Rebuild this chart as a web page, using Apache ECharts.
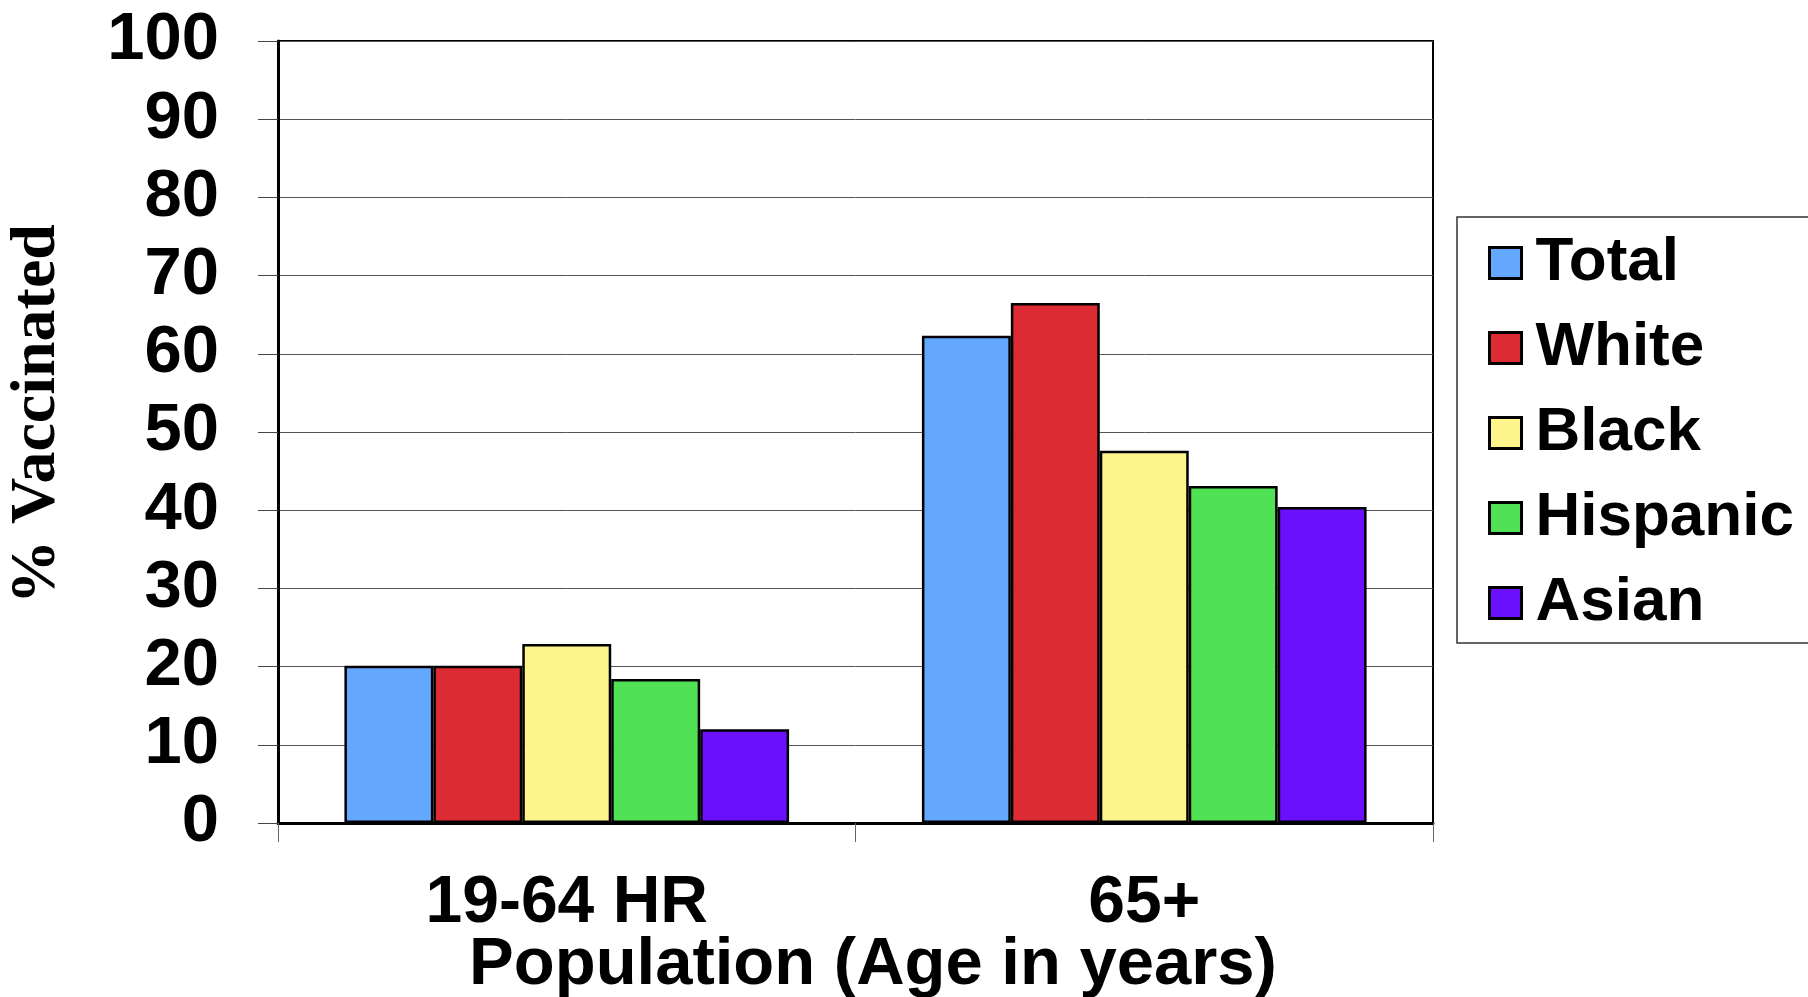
<!DOCTYPE html>
<html>
<head>
<meta charset="utf-8">
<script src="https://cdn.jsdelivr.net/npm/echarts@6/dist/echarts.min.js"></script>
<style>
	html, body { margin: 0; padding: 0; background: #fff; }
	#main { width: 1808px; height: 997px; }
</style>
</head>
<body>
<div id="main"></div>
<script>
	var categories = ['19-64 HR', '65+'];
	var groups = ['Total', 'White', 'Black', 'Hispanic', 'Asian'];
	var total = [20.1, 62.3];
	var white = [20.1, 66.5];
	var black = [22.9, 47.6];
	var hispanic = [18.4, 43.1];
	var asian = [12.0, 40.4];
	var colorList = ['#63A8FE', '#DC2B33', '#FEF48C', '#50E254', '#6A10FD'];

	var sans = '"Liberation Sans", Arial, sans-serif';

	function barSeries(name, data, i) {
		return {
			name: name,
			type: 'bar',
			data: data,
			barGap: '0%',
			barCategoryGap: '23%',
			itemStyle: {
				color: colorList[i],
				borderColor: '#000',
				borderWidth: 2.5
			}
		};
	}

	var myChart = echarts.init(document.getElementById('main'));
	var option = {
		animation: false,
		textStyle: { fontFamily: sans },
		grid: {
			left: 278,
			right: 375,
			top: 41,
			bottom: 174,
			show: true,
			borderColor: '#000',
			borderWidth: 2
		},
		legend: {
			orient: 'vertical',
			left: 1488,
			top: 232,
			padding: 0,
			icon: 'rect',
			itemWidth: 32,
			itemHeight: 31,
			itemGap: 23,
			selectedMode: false,
			itemStyle: {
				borderColor: '#000',
				borderWidth: 3
			},
			textStyle: {
				fontFamily: sans,
				fontWeight: 'bold',
				fontSize: 62,
				lineHeight: 62,
				padding: [0, 0, 0, 9],
				color: '#000'
			},
			data: groups
		},
		xAxis: {
			type: 'category',
			data: categories,
			axisLine: { lineStyle: { color: '#000', width: 3 } },
			axisTick: { show: true, length: 19, lineStyle: { color: '#666', width: 1 } },
			axisLabel: {
				margin: 48,
				fontFamily: sans,
				fontWeight: 'bold',
				fontSize: 66,
				lineHeight: 66,
				color: '#000'
			}
		},
		yAxis: {
			type: 'value',
			min: 0,
			max: 100,
			interval: 10,
			axisLine: { show: true, lineStyle: { color: '#000', width: 3 } },
			axisTick: { show: true, length: 20, lineStyle: { color: '#444', width: 1 } },
			splitLine: { show: true, lineStyle: { color: '#555', width: 1 } },
			axisLabel: {
				margin: 59,
				fontFamily: sans,
				fontWeight: 'bold',
				fontSize: 67,
				color: '#000'
			}
		},
		graphic: [
			{
				type: 'rect',
				shape: { x: 1457, y: 217, width: 380, height: 426 },
				style: { fill: 'none', stroke: '#333', lineWidth: 1.5 },
				z: -1
			},
			{
				type: 'text',
				x: 37,
				y: 414,
				rotation: Math.PI / 2,
				style: {
					text: '% Vaccinated',
					fontFamily: '"Liberation Serif", "Times New Roman", serif',
					fontWeight: 'bold',
					fontSize: 64,
					fill: '#000',
					align: 'center',
					verticalAlign: 'middle'
				}
			},
			{
				type: 'text',
				x: 873,
				y: 966,
				style: {
					text: 'Population (Age in years)',
					fontFamily: sans,
					fontWeight: 'bold',
					fontSize: 67,
					fill: '#000',
					align: 'center',
					verticalAlign: 'middle'
				}
			}
		],
		series: [
			barSeries('Total', total, 0),
			barSeries('White', white, 1),
			barSeries('Black', black, 2),
			barSeries('Hispanic', hispanic, 3),
			barSeries('Asian', asian, 4)
		]
	};
	myChart.setOption(option);
</script>
</body>
</html>
